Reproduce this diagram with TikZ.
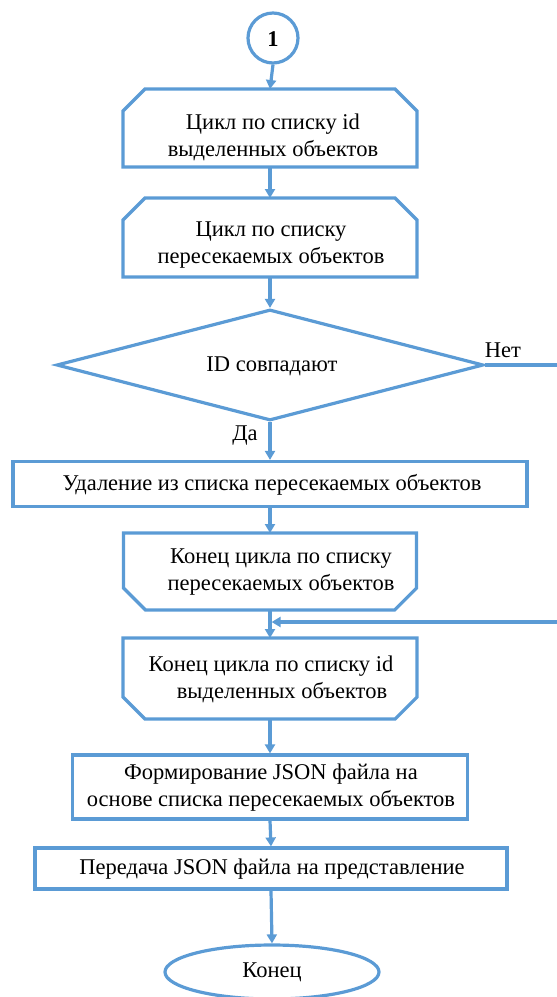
\documentclass[tikz,border=0pt]{standalone}
\usepackage{fontspec}
\setmainfont{Liberation Serif}
\usetikzlibrary{arrows.meta,shapes.geometric,calc}
\definecolor{fc}{RGB}{91,155,213}
\begin{document}
\begin{tikzpicture}[x=1pt,y=-1pt,
  line/.style={draw=fc,line width=3.2pt},
  arr/.style={draw=fc,line width=3.2pt,-{Triangle[length=9pt,width=10pt]}},
  shp/.style={draw=none,inner sep=0pt,outer sep=0pt},
  txt/.style={inner sep=0pt,align=center,font=\fontsize{22.5}{27}\selectfont},
  lbl/.style={inner sep=0pt,font=\fontsize{22.5}{27}\selectfont}]
\useasboundingbox (0,0) rectangle (557,997);
% shapes
\node[circle,line,minimum size=50pt,inner sep=0pt] (s0) at (273,38) {};
\node[shp,minimum width=294pt,minimum height=78pt] (s1) at (270,128) {};
\node[shp,minimum width=294pt,minimum height=79pt] (s2) at (270,237.5) {};
\node[diamond,line,minimum width=427pt,minimum height=111pt,inner sep=0pt] (d) at (270,365) {};
\node[rectangle,line,minimum width=514pt,minimum height=45pt] (s3) at (270,484) {};
\node[shp,minimum width=293pt,minimum height=77pt] (s4) at (270,571.5) {};
\node[shp,minimum width=294pt,minimum height=81pt] (s5) at (270,678.5) {};
\node[rectangle,line,minimum width=395pt,minimum height=64pt] (s6) at (270,787) {};
\node[rectangle,line,minimum width=472pt,minimum height=41pt] (s7) at (271,868.5) {};
\node[ellipse,line,minimum width=214pt,minimum height=54pt,inner sep=0pt] (e) at (272,972) {};
% chamfered outlines
\foreach \s in {s1,s2}{
  \draw[line,line join=miter] (\s.south west) -- ([yshift=-22pt]\s.north west) -- ([xshift=22pt]\s.north west)
    -- ([xshift=-22pt]\s.north east) -- ([yshift=-22pt]\s.north east) -- (\s.south east) -- cycle;
}
\foreach \s in {s4,s5}{
  \draw[line,line join=miter] (\s.north west) -- ([yshift=22pt]\s.south west) -- ([xshift=22pt]\s.south west)
    -- ([xshift=-22pt]\s.south east) -- ([yshift=22pt]\s.south east) -- (\s.north east) -- cycle;
}
% texts
\node[txt] (t0) at (273,39) {\textbf{1}};
\node[txt] (t1) at (273,137) {Цикл по списку id\\выделенных объектов};
\node[txt] (t2) at (271,245) {Цикл по списку\\пересекаемых объектов};
\node[txt] (td) at (272,366) {ID совпадают};
\node[lbl] (no) at (503,350) {Нет};
\node[lbl] (yes) at (245,436) {Да};
\node[txt] (t3) at (272,485) {Удаление из списка пересекаемых объектов};
\node[txt] (t4) at (281,572) {Конец цикла по списку\\пересекаемых объектов};
\node[txt] (t5) at (271,679) {Конец цикла по списку id\\\hspace*{22pt}выделенных объектов};
\node[txt] (t6) at (271,788) {Формирование JSON файла на\\основе списка пересекаемых объектов};
\node[txt] (t7) at (272,869) {Передача JSON файла на представление};
\node[txt] (te) at (272,972) {Конец};
% connectors
\coordinate (nr) at (557,365);
\coordinate (rr) at (557,622);
\draw[arr] (s0.south) -- (s1.north);
\draw[arr] (s1.south) -- (s2.north);
\draw[arr] (s2.south) -- (d.north);
\draw[arr] (d.south) -- (s3.north);
\draw[arr] (s3.south) -- (s4.north);
\draw[arr] (s4.south) -- (s5.north);
\draw[arr] (s5.south) -- (s6.north);
\draw[arr] (s6.south) -- (s7.north);
\draw[arr] (s7.south) -- (e.north);
\draw[line] (d.east) -- (nr);
\draw[arr,shorten >=1.6pt] (rr) -- (s4.south |- rr);
\end{tikzpicture}
\end{document}
